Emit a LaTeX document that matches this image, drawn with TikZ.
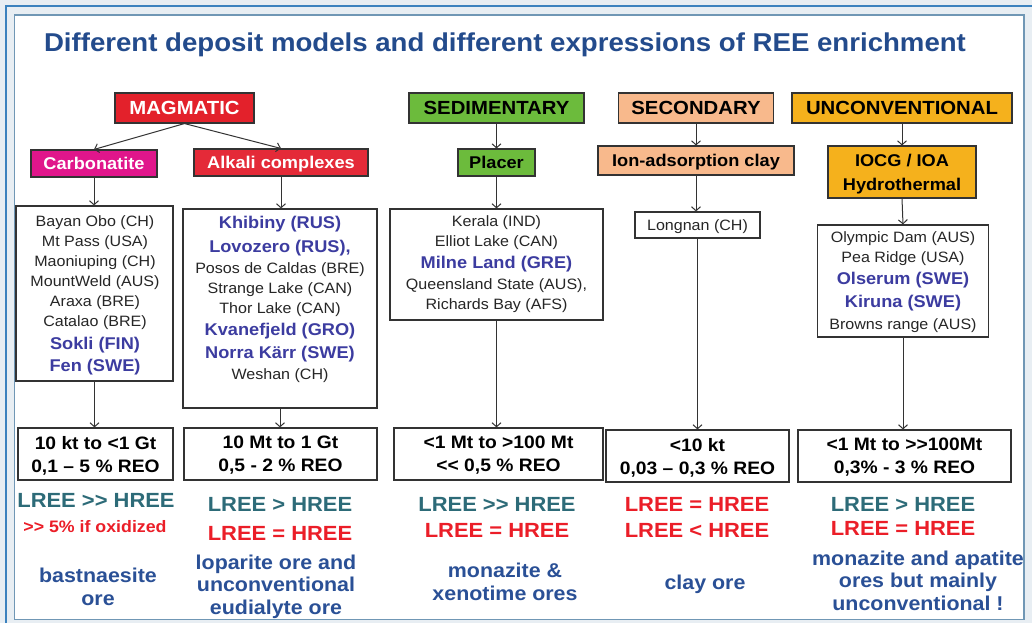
\documentclass[tikz,border=0pt]{standalone}
\usepackage{fontspec}
\setmainfont{Liberation Sans}[FakeStretch=1.07]
\usetikzlibrary{arrows.meta}
\definecolor{bgout}{HTML}{E8EEF3}
\definecolor{outerblue}{HTML}{3C82BE}
\definecolor{innerframe}{HTML}{7097B5}
\definecolor{titleblue}{HTML}{234B8C}
\definecolor{magred}{HTML}{E3212B}
\definecolor{alkred}{HTML}{E42A38}
\definecolor{carbmag}{HTML}{E0168B}
\definecolor{sedgreen}{HTML}{6CBB3C}
\definecolor{secpeach}{HTML}{F8B98C}
\definecolor{uncorange}{HTML}{F5B11C}
\definecolor{listblue}{HTML}{3C3CA0}
\definecolor{teal}{HTML}{2D6B78}
\definecolor{txtred}{HTML}{EB1E28}
\definecolor{oreblue}{HTML}{2A5096}
\definecolor{lineg}{HTML}{333333}
\newcommand\fsz[2]{\fontsize{#1}{#2}\selectfont}
\newcommand\bl[1]{{\bfseries\fsz{17}{20}\color{listblue}#1}}
\newcommand\dgt{>\kern0pt>}
\newcommand\dlt{<\kern0pt<}
\tikzset{
  cat/.style={draw=lineg, line width=1.1pt, inner sep=0pt, text depth=0pt, font=\bfseries\fsz{19}{22}},
  sub/.style={draw=lineg, line width=1.1pt, inner sep=0pt, align=center, text depth=0pt, font=\bfseries\fsz{17}{24}},
  lbox/.style={draw=lineg, line width=1.2pt, fill=white, inner sep=0pt},
  ltxt/.style={align=center, inner sep=0pt, text=black!85, font=\fsz{15}{20}},
  rbox/.style={draw=lineg, line width=1.2pt, inner sep=0pt, align=center, text depth=0pt, font=\bfseries\fsz{18}{23}},
  lree/.style={inner sep=0pt, text=teal, font=\bfseries\fsz{20.5}{24}},
  lreer/.style={inner sep=0pt, text=txtred, font=\bfseries\fsz{20.5}{24}},
  ore/.style={inner sep=0pt, align=center, text=oreblue, font=\bfseries\fsz{20}{23}},
  arr/.style={-{Straight Barb[length=4pt,width=9pt]}, draw=lineg, line width=1pt}
}
\begin{document}
\begin{tikzpicture}[x=1pt,y=-1pt]
\useasboundingbox (0,0) rectangle (1032,623);
\fill[bgout] (0,0) rectangle (1032,623);
\draw[outerblue, line width=2.2pt] (6,623) -- (6,6) -- (1032,6);
\filldraw[fill=white, draw=innerframe, line width=1.5pt] (14.5,15) rectangle (1024,619.5);

\node[inner sep=0pt, text=titleblue, font=\bfseries\fsz{25.8}{28}] (title) at (505,45)
  {Different deposit models and different expressions of REE enrichment};

% categories
\node[cat, fill=magred, text=white, minimum width=139, minimum height=30] (mag) at (184.5,108) {MAGMATIC};
\node[cat, fill=sedgreen, minimum width=175, minimum height=30] (sed) at (496.5,108) {SEDIMENTARY};
\node[cat, fill=secpeach, minimum width=155, minimum height=30] (sec) at (696,108) {SECONDARY};
\node[cat, fill=uncorange, minimum width=220, minimum height=30] (unc) at (902,108) {UNCONVENTIONAL};

% sub-categories
\node[sub, fill=carbmag, text=white, minimum width=126, minimum height=27] (carb) at (94,163.5) {Carbonatite};
\node[sub, fill=alkred, text=white, minimum width=174, minimum height=27] (alk) at (281,162.5) {Alkali complexes};
\node[sub, fill=sedgreen, minimum width=77, minimum height=27] (plc) at (496.5,162.5) {Placer};
\node[sub, fill=secpeach, minimum width=196, minimum height=29] (ion) at (696,160.5) {Ion-adsorption clay};
\node[sub, fill=uncorange, minimum width=148, minimum height=52] (iocg) at (902,172) {IOCG / IOA\\Hydrothermal};

% deposit lists
\node[lbox, minimum width=157, minimum height=175] (l1) at (94.5,293.5) {};
\node[ltxt] (t1) at (95,295) {Bayan Obo (CH)\\ Mt Pass (USA)\\ Maoniuping (CH)\\ MountWeld (AUS)\\ Araxa (BRE)\\ Catalao (BRE)\\[3pt] \bl{Sokli (FIN)}\\[2pt] \bl{Fen (SWE)}};
\node[lbox, minimum width=194, minimum height=199] (l2) at (280,308.5) {};
\node[ltxt] (t2) at (280,299) {\bl{Khibiny (RUS)}\\[4pt] \bl{Lovozero (RUS),}\\[1pt] Posos de Caldas (BRE)\\ Strange Lake (CAN)\\ Thor Lake (CAN)\\[2pt] \bl{Kvanefjeld (GRO)}\\[3pt] \bl{Norra Kärr (SWE)}\\[1pt] Weshan (CH)};
\node[lbox, minimum width=213, minimum height=111] (l3) at (496.5,264.5) {};
\node[ltxt] (t3) at (496.5,264.5) {Kerala (IND)\\ Elliot Lake (CAN)\\[2pt] \bl{Milne Land (GRE)}\\[1pt] Queensland State (AUS),\\ Richards Bay (AFS)};
\node[lbox, minimum width=125, minimum height=26] (l4) at (697.5,225) {};
\node[ltxt] (t4) at (697.5,226.5) {Longnan (CH)};
\node[lbox, minimum width=171, minimum height=112] (l5) at (903,281) {};
\node[ltxt] (t5) at (903,282) {Olympic Dam (AUS)\\ Pea Ridge (USA)\\[2pt] \bl{Olserum (SWE)}\\[3pt] \bl{Kiruna (SWE)}\\[2pt] Browns range (AUS)};

% tonnage / grade boxes
\node[rbox, minimum width=155, minimum height=52] (r1) at (95.5,454) {10 kt to <1 Gt\\0,1 – 5 \% REO};
\node[rbox, minimum width=193, minimum height=52] (r2) at (280.5,454) {10 Mt to 1 Gt\\0,5 - 2 \% REO};
\node[rbox, minimum width=209, minimum height=52] (r3) at (498.5,454) {<1 Mt to >100 Mt\\\dlt{} 0,5 \% REO};
\node[rbox, minimum width=183, minimum height=52] (r4) at (697.5,456) {<10 kt\\0,03 – 0,3 \% REO};
\node[rbox, minimum width=213, minimum height=52] (r5) at (904.5,456) {<1 Mt to \dgt100Mt\\0,3\% - 3 \% REO};

% connectors
\draw[arr] (mag.south) -- (carb.north);
\draw[arr] (mag.south) -- (alk.north);
\draw[arr] (sed.south) -- (plc.north);
\draw[arr] (sec.south) -- (ion.north);
\draw[arr] (unc.south) -- (iocg.north);
\draw[arr] (carb.south) -- (carb.south |- l1.north);
\draw[arr] (alk.south) -- (alk.south |- l2.north);
\draw[arr] (plc.south) -- (l3.north);
\draw[arr] (ion.south) -- (ion.south |- l4.north);
\draw[arr] (iocg.south) -- (l5.north);
\draw[arr] (l1.south) -- (l1.south |- r1.north);
\draw[arr] (l2.south) -- (l2.south |- r2.north);
\draw[arr] (l3.south) -- (l3.south |- r3.north);
\draw[arr] (l4.south) -- (l4.south |- r4.north);
\draw[arr] (l5.south) -- (l5.south |- r5.north);

% enrichment expressions
\node[lree] (e1a) at (96,500) {LREE \dgt{} HREE};
\node[inner sep=0pt, text=txtred, font=\bfseries\fsz{16.6}{19}] (e1b) at (95,527) {\dgt{} 5\% if oxidized};
\node[ore] (o1) at (98,586.5) {bastnaesite\\ore};

\node[lree] (e2a) at (280,504) {LREE > HREE};
\node[lreer] (e2b) at (280,533) {LREE = HREE};
\node[ore, font=\bfseries\fsz{20}{22.5}] (o2) at (276,586.5) {loparite ore and\\unconventional\\eudialyte ore};

\node[lree] (e3a) at (497,504) {LREE \dgt{} HREE};
\node[lreer] (e3b) at (497,530) {LREE = HREE};
\node[ore] (o3) at (505,581.5) {monazite \&\\xenotime ores};

\node[lreer] (e4a) at (697,504) {LREE = HREE};
\node[lreer] (e4b) at (697,530) {LREE < HREE};
\node[ore] (o4) at (705,584) {clay ore};

\node[lree] (e5a) at (903,504) {LREE > HREE};
\node[lreer] (e5b) at (903,528) {LREE = HREE};
\node[ore, font=\bfseries\fsz{20}{22.5}] (o5) at (918,580.5) {monazite and apatite\\ores but mainly\\unconventional !};
\end{tikzpicture}
\end{document}
